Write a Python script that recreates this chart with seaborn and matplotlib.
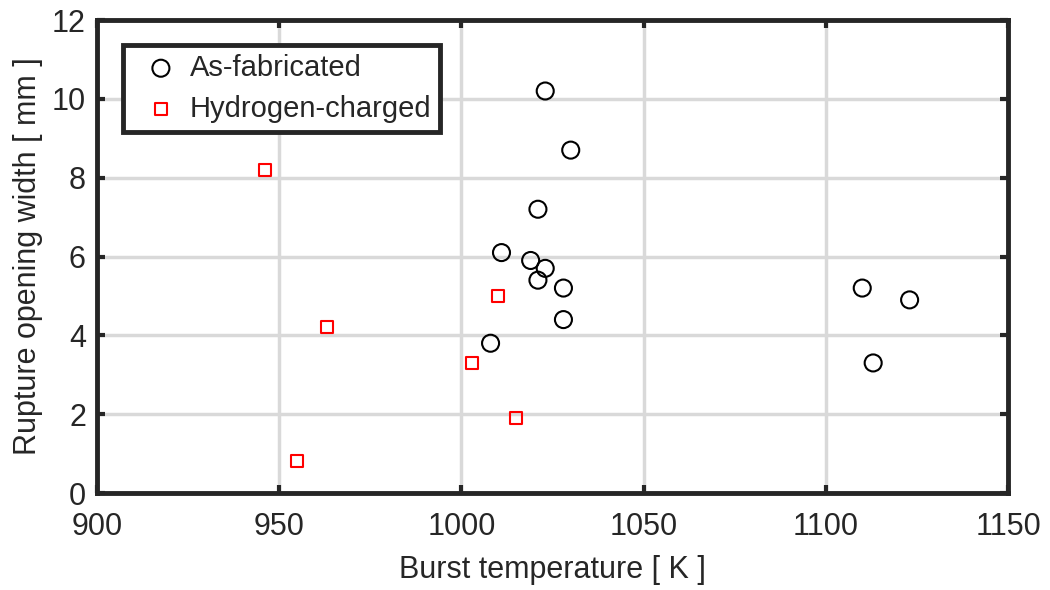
import matplotlib
matplotlib.use("Agg")
import matplotlib.pyplot as plt
import seaborn as sns
import pandas as pd

asfab_temp = [1023, 1030, 1021, 1011, 1019, 1023, 1021, 1028, 1028, 1008, 1110, 1123, 1113]
asfab_width = [10.2, 8.7, 7.2, 6.1, 5.9, 5.7, 5.4, 5.2, 4.4, 3.8, 5.2, 4.9, 3.3]
hyd_temp = [946, 963, 955, 1003, 1010, 1015]
hyd_width = [8.2, 4.2, 0.8, 3.3, 5.0, 1.9]
series_names = ["As-fabricated", "Hydrogen-charged"]

df = pd.DataFrame({
    "temp": asfab_temp + hyd_temp,
    "width": asfab_width + hyd_width,
    "group": [series_names[0]] * len(asfab_temp) + [series_names[1]] * len(hyd_temp),
})

sns.set_style("white")
plt.rcParams["font.family"] = ["Liberation Sans", "DejaVu Sans"]

fig = plt.figure(figsize=(10.5, 5.9), dpi=100)
ax = fig.add_axes([0.0924, 0.1644, 0.8676, 0.8016])

edge = "#262626"
for name, marker, color, size in [(series_names[0], "o", "black", 150), (series_names[1], "s", "red", 75)]:
    sub = df[df["group"] == name]
    sns.scatterplot(data=sub, x="temp", y="width", ax=ax, marker=marker, s=size,
                    facecolors="none", edgecolor=color, linewidth=1.5, label=name, zorder=3)

ax.set_xlim(900, 1150)
ax.set_ylim(0, 12)
ax.set_xticks([900, 950, 1000, 1050, 1100, 1150])
ax.set_yticks([0, 2, 4, 6, 8, 10, 12])
ax.grid(True, color="#d9d9d9", linewidth=2.5, zorder=0)
ax.set_axisbelow(True)
for sp in ax.spines.values():
    sp.set_linewidth(3.5)
    sp.set_color(edge)
ax.tick_params(direction="in", length=6, width=3, color=edge, labelsize=22, labelcolor=edge,
               top=True, right=True, bottom=True, left=True)
ax.tick_params(axis="x", pad=14)
ax.tick_params(axis="y", pad=8)
ax.set_xlabel("Burst temperature [ K ]", fontsize=22, color=edge, labelpad=9)
ax.set_ylabel("Rupture opening width [ mm ]", fontsize=22, color=edge, labelpad=6)

leg = ax.legend(loc="upper left", bbox_to_anchor=(0.0285, 0.947), fontsize=21, frameon=True,
                fancybox=False, edgecolor=edge, framealpha=1, borderpad=0.3, handletextpad=0.0,
                labelspacing=0.45, handlelength=2.0, borderaxespad=0)
leg.get_frame().set_linewidth(3.5)

fig.savefig("out.png", dpi=100)
